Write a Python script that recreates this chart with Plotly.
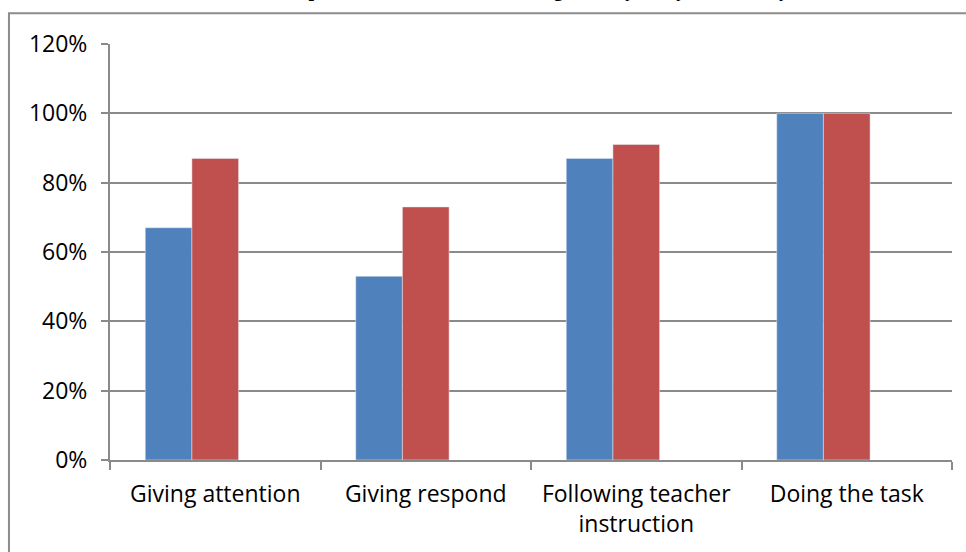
import plotly.graph_objects as go

# Learning activity indicators and the share of students observed in each cycle
categories = ["Giving attention", "Giving respond", "Following teacher<br>instruction", "Doing the task"]
cycle_1 = [0.67, 0.53, 0.87, 1.00]
cycle_2 = [0.87, 0.73, 0.91, 1.00]
cycle_3 = [None, None, None, None]  # empty third series kept in the chart
y_ticks = [0, 0.2, 0.4, 0.6, 0.8, 1.0, 1.2]
y_tick_labels = ["0%", "20%", "40%", "60%", "80%", "100%", "120%"]

title_text = "The Comparison of Students' Learning Activity in Cycle I and Cycle II"

fig = go.Figure()
fig.add_trace(go.Bar(x=categories, y=cycle_1, name="Cycle 1", marker_color="#4F81BD"))
fig.add_trace(go.Bar(x=categories, y=cycle_2, name="Cycle 2", marker_color="#C0504D"))
fig.add_trace(go.Bar(x=categories, y=cycle_3, name="Series 3", marker_color="#9BBB59"))

grid = "#8a8a8a"
font_family = "'Open Sans', Carlito, Calibri, sans-serif"

fig.update_layout(
    width=966,
    height=552,
    margin=dict(l=110, r=14, t=44, b=92),
    paper_bgcolor="white",
    plot_bgcolor="white",
    barmode="group",
    bargap=0.335,
    bargroupgap=0,
    showlegend=False,
    font=dict(family=font_family, size=23, color="#000000"),
    xaxis=dict(
        type="category",
        tickson="boundaries",
        ticks="outside",
        ticklen=8,
        tickwidth=2,
        tickcolor=grid,
        showline=True,
        linecolor=grid,
        linewidth=2,
        showgrid=False,
        ticklabelstandoff=12,
        tickfont=dict(size=23),
    ),
    yaxis=dict(
        range=[0, 1.2],
        tickvals=y_ticks,
        ticktext=y_tick_labels,
        ticks="outside",
        ticklen=7,
        tickwidth=2,
        tickcolor=grid,
        showline=True,
        linecolor=grid,
        linewidth=2,
        showgrid=True,
        gridcolor=grid,
        gridwidth=2,
        zeroline=False,
        ticklabelstandoff=9,
        tickfont=dict(size=23),
    ),
    shapes=[
        dict(
            type="rect",
            xref="paper",
            yref="paper",
            x0=-0.12,
            x1=1.03,
            y0=-0.25,
            y1=1.074,
            line=dict(color="#8c8c8c", width=2),
            fillcolor="rgba(0,0,0,0)",
            layer="below",
        )
    ],
    annotations=[
        dict(
            text=f"<b>{title_text}</b>",
            xref="paper",
            yref="paper",
            x=0.5,
            y=1.098,
            xanchor="center",
            yanchor="bottom",
            showarrow=False,
            font=dict(family="'Liberation Serif', 'Times New Roman', serif", size=20, color="#000000"),
        )
    ],
)

fig.write_html("out.html")
